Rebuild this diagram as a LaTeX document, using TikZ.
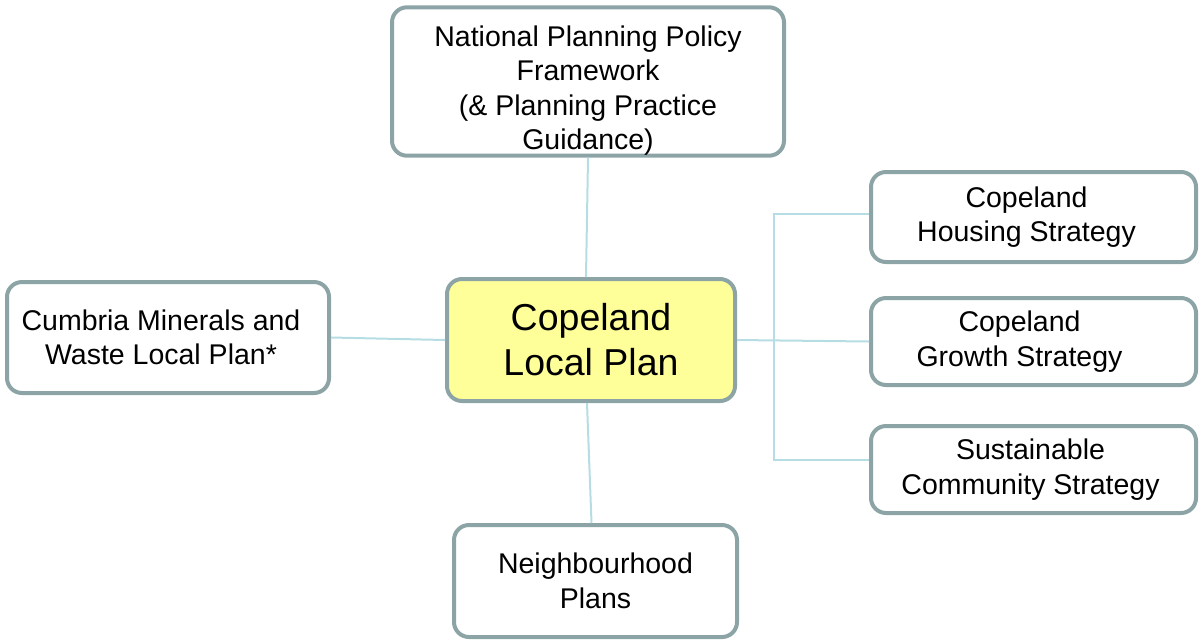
\documentclass[tikz,border=0pt]{standalone}
\usepackage{fontspec}
\setmainfont{Liberation Sans}
\definecolor{boxline}{RGB}{141,164,166}
\definecolor{linkline}{RGB}{183,221,228}
\definecolor{planfill}{RGB}{255,255,153}
\newcommand{\padr}[1]{\hspace*{#1pt}}
\begin{document}
\begin{tikzpicture}[x=1pt,y=-1pt]

      \useasboundingbox (0,0) rectangle (1201,641);

      \begin{scope}[every node/.style={draw=boxline,line width=4pt,rounded corners=15pt,
          fill=white,align=center,inner sep=0pt,font=\fontsize{28.5}{34.5}\selectfont}]
        \node[fill=planfill,minimum width=288,minimum height=122,
          font=\fontsize{37.5}{45}\selectfont] (1) at (591,340) {Copeland\\Local Plan};
        \node[minimum width=392,minimum height=147] (2) at (588,81.5)
          {\rule{0pt}{39pt}National Planning Policy\\Framework\\(\& Planning Practice\\Guidance)};
        \node[minimum width=322,minimum height=111] (3) at (168,337.5)
          {Cumbria Minerals and\padr{14}\\Waste Local Plan*\padr{14}};
        \node[minimum width=283,minimum height=112] (4) at (595.5,581)
          {Neighbourhood\\Plans};
        \node[minimum width=325,minimum height=90] (5) at (1033.5,217)
          {Copeland\padr{14}\\Housing Strategy\padr{14}};
        \node[minimum width=325,minimum height=87] (6) at (1033.5,341.5)
          {Copeland\padr{28}\\Growth Strategy\padr{28}};
        \node[minimum width=325,minimum height=87] (7) at (1033.5,469.5)
          {Sustainable\padr{6}\\Community Strategy\padr{6}};
      \end{scope}

      \coordinate (8) at (774,340);

      \begin{scope}[every edge/.style={draw=linkline,line width=2pt}]
        \path (2.south) edge ([xshift=-2pt]2.south |- 1.north);
        \path ([xshift=-4pt]1.south) edge ([xshift=-4pt]4.north);
        \path (3.east) edge (1.west);
        \path (1.east) edge (6.west);
        \draw[linkline,line width=2pt] ([yshift=3pt]5.west) -| (8) |- ([yshift=9.5pt]7.west);
      \end{scope}

    \end{tikzpicture}
\end{document}
